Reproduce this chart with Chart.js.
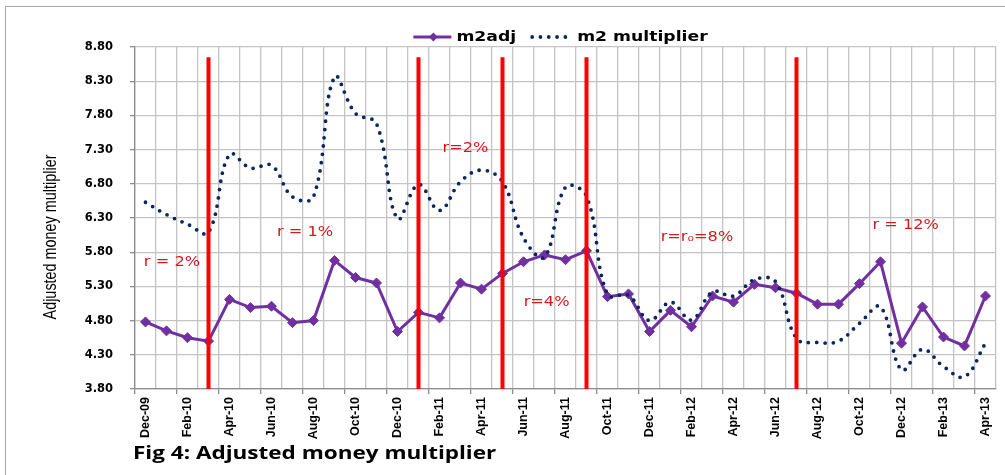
<!DOCTYPE html>
<html><head><meta charset="utf-8">
<script src="https://cdn.jsdelivr.net/npm/chart.js@4.4.1/dist/chart.umd.min.js"></script>
<style>
html,body{margin:0;padding:0;background:#fff;}
#wrap{position:relative;width:1005px;height:475px;overflow:hidden;}
#frame{position:absolute;left:5px;top:6px;width:1020px;height:490px;border:1px solid #a6a6a6;box-sizing:border-box;}
canvas{position:absolute;left:0;top:0;}
</style></head>
<body><div id="wrap"><div id="frame"></div><canvas id="c" width="1005" height="475"></canvas></div>
<script>
// ---- data ----
const months = ['Dec-09','Jan-10','Feb-10','Mar-10','Apr-10','May-10','Jun-10','Jul-10','Aug-10','Sep-10','Oct-10','Nov-10',
  'Dec-10','Jan-11','Feb-11','Mar-11','Apr-11','May-11','Jun-11','Jul-11','Aug-11','Sep-11','Oct-11','Nov-11',
  'Dec-11','Jan-12','Feb-12','Mar-12','Apr-12','May-12','Jun-12','Jul-12','Aug-12','Sep-12','Oct-12','Nov-12',
  'Dec-12','Jan-13','Feb-13','Mar-13','Apr-13'];
const m2adj = [4.78,4.65,4.55,4.50,5.11,4.99,5.01,4.77,4.80,5.68,5.43,5.35,
  4.64,4.92,4.84,5.35,5.26,5.49,5.66,5.76,5.69,5.82,5.15,5.19,
  4.64,4.95,4.71,5.16,5.07,5.33,5.28,5.20,5.04,5.04,5.34,5.66,
  4.47,5.00,4.56,4.43,5.16];
const m2multiplier = [6.53,6.35,6.21,6.09,7.23,7.03,7.07,6.61,6.61,8.36,7.83,7.68,
  6.29,6.79,6.41,6.83,7.00,6.83,6.01,5.73,6.75,6.62,5.18,5.17,
  4.80,5.07,4.81,5.22,5.16,5.40,5.37,4.54,4.48,4.50,4.76,5.00,
  4.08,4.38,4.13,3.98,4.47];
const yMin = 3.8, yMax = 8.8, yStep = 0.5;
const policyMonths = ['Mar-10','Jan-11','May-11','Sep-11','Jul-12'];
const policyLineTop = 8.65;
const regimeTexts = ['r = 2%','r = 1%','r=2%','r=4%','r=r\u2080=8%','r = 12%'];
const chartTitle = 'Fig 4: Adjusted money multiplier';
const yTitle = 'Adjusted money multiplier';

// ---- styles ----
const PURPLE = '#7030A0', NAVY = '#0a2660', RED = '#ff0000', RTEXT = '#d01c1c';
const GRID = '#c4c4c4', AXIS = '#8c8c8c';

function stretchedText(ctx, text, x, y, font, color, sx, align) {
  ctx.save();
  ctx.font = font; ctx.fillStyle = color; ctx.textBaseline = 'middle'; ctx.textAlign = align || 'left';
  ctx.translate(x, y); ctx.scale(sx, 1); ctx.fillText(text, 0, 0);
  ctx.restore();
}

const overlay = {
  id: 'overlay',
  afterDatasetsDraw(chart, args, opts) {
    const ctx = chart.ctx, xs = chart.scales.x, ys = chart.scales.y;
    ctx.save();
    ctx.strokeStyle = RED; ctx.lineWidth = 4; ctx.lineCap = 'butt';
    policyMonths.forEach(m => {
      const x = xs.getPixelForValue(months.indexOf(m));
      ctx.beginPath(); ctx.moveTo(x, ys.getPixelForValue(policyLineTop)); ctx.lineTo(x, ys.bottom); ctx.stroke();
    });
    ctx.restore();
    regimeTexts.forEach((t, i) => {
      const p = opts.regimePos[i];
      stretchedText(ctx, t, xs.getPixelForValue(p[0]), ys.getPixelForValue(p[1]), "13.5px 'DejaVu Sans'", RTEXT, 1.2, 'center');
    });
  },
  afterDraw(chart, args, opts) {
    const ctx = chart.ctx, ca = chart.chartArea;
    // legend
    const lf = "bold 14px 'DejaVu Sans'", sx = 1.23;
    ctx.save(); ctx.font = lf;
    const w1 = ctx.measureText('m2adj').width * sx, w2 = ctx.measureText('m2 multiplier').width * sx;
    ctx.restore();
    const sample = 38, gapT = 5, gapI = 14, gapT2 = 9;
    const total = sample + gapT + w1 + gapI + sample + gapT2 + w2;
    let x = (ca.left + ca.right) / 2 - total / 2 - 5;
    const ly = 37;
    const ds0 = chart.data.datasets[0], ds1 = chart.data.datasets[1];
    ctx.save();
    ctx.strokeStyle = ds0.borderColor; ctx.lineWidth = ds0.borderWidth;
    ctx.beginPath(); ctx.moveTo(x, ly); ctx.lineTo(x + sample, ly); ctx.stroke();
    ctx.fillStyle = ds0.pointBackgroundColor;
    ctx.beginPath(); const cx = x + sample / 2 + 1, r = 4.5;
    ctx.moveTo(cx, ly - r); ctx.lineTo(cx + r, ly); ctx.lineTo(cx, ly + r); ctx.lineTo(cx - r, ly); ctx.closePath(); ctx.fill();
    ctx.restore();
    x += sample + gapT;
    stretchedText(ctx, 'm2adj', x, ly, lf, '#000', sx);
    x += w1 + gapI;
    ctx.save();
    ctx.strokeStyle = ds1.borderColor; ctx.lineWidth = ds1.borderWidth; ctx.lineCap = 'round';
    ctx.setLineDash(ds1.borderDash);
    ctx.beginPath(); ctx.moveTo(x + 2, ly); ctx.lineTo(x + sample, ly); ctx.stroke();
    ctx.restore();
    x += sample + gapT2;
    stretchedText(ctx, 'm2 multiplier', x, ly, lf, '#000', sx);
    // y axis title (rotated)
    ctx.save();
    ctx.font = "16px 'Liberation Sans'"; ctx.fillStyle = '#000'; ctx.textAlign = 'center'; ctx.textBaseline = 'middle';
    ctx.translate(51, 237); ctx.rotate(-Math.PI / 2); ctx.scale(0.9, 1.15);
    ctx.fillText(yTitle, 0, 0);
    ctx.restore();
    // bottom caption
    stretchedText(ctx, chartTitle, 133, 454, "bold 18px 'Open Sans'", '#000', 1.25);
  }
};

new Chart(document.getElementById('c'), {
  type: 'line',
  data: {
    labels: months,
    datasets: [
      { label: 'm2adj', data: m2adj, order: 1, borderColor: PURPLE, borderWidth: 3, tension: 0,
        pointStyle: 'rectRot', pointRadius: 5, pointBackgroundColor: PURPLE, pointBorderColor: PURPLE, pointBorderWidth: 1 },
      { label: 'm2 multiplier', data: m2multiplier, order: 0, borderColor: NAVY, borderWidth: 3.8,
        borderDash: [0, 8.3], borderCapStyle: 'round', pointRadius: 0, tension: 0.4, fill: false }
    ]
  },
  options: {
    responsive: false, animation: false, events: [],
    layout: { padding: { left: 0, top: 47, right: 9, bottom: 0 } },
    plugins: { legend: { display: false }, title: { display: false }, tooltip: { enabled: false },
      overlay: { regimePos: [[1.26, 5.65], [7.6, 6.09], [15.24, 7.32], [19.1, 5.06], [26.26, 6.02], [36.2, 6.19]] } },
    scales: {
      x: {
        type: 'category', offset: true,
        grid: { offset: true, color: GRID, lineWidth: 1.3, tickLength: 5,
          tickColor: c => (c.index % 2 === 0 ? AXIS : 'rgba(0,0,0,0)') },
        border: { color: AXIS, width: 1.3 },
        ticks: { autoSkip: false, maxRotation: 90, minRotation: 90, padding: 3, color: '#000',
          font: { family: "'Liberation Sans'", weight: 'bold', size: 12.5 },
          callback: (v, i) => (i % 2 === 0 ? months[i] : '') },
        afterFit: s => { s.height = 86; }
      },
      y: {
        min: yMin, max: yMax,
        ticks: { stepSize: yStep, padding: 17, color: '#000', callback: v => v.toFixed(2),
          font: { family: "'DejaVu Sans'", weight: 'bold', size: 11.5 } },
        grid: { color: GRID, lineWidth: 1.3, tickLength: 5, tickColor: AXIS },
        border: { color: AXIS, width: 1.3 },
        afterFit: s => { s.width = 135; }
      }
    }
  },
  plugins: [overlay]
});
</script>
</body></html>
